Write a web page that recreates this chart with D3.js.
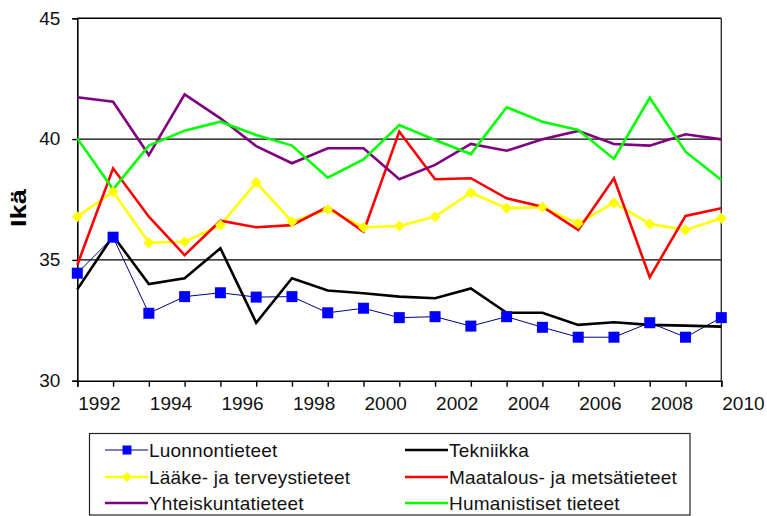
<!DOCTYPE html>
<html>
<head>
<meta charset="utf-8">
<script src="https://cdn.jsdelivr.net/npm/d3@7"></script>
<style>
  html, body { margin: 0; padding: 0; background: #fff; }
  svg { display: block; font-family: "Liberation Sans", Arial, sans-serif; }
</style>
</head>
<body>
<svg id="chart" width="767" height="516"></svg>
<script>
// Years on the category axis
const years = [1992, 1993, 1994, 1995, 1996, 1997, 1998, 1999, 2000, 2001,
               2002, 2003, 2004, 2005, 2006, 2007, 2008, 2009, 2010];

// Mean age by field
const luonnontieteet = [34.45, 35.94, 32.79, 33.48, 33.64, 33.46, 33.48, 32.81, 33.0, 32.61,
                        32.65, 32.26, 32.65, 32.21, 31.8, 31.8, 32.4, 31.8, 32.61];
const tekniikka      = [33.78, 36.0, 34.0, 34.24, 35.48, 32.4, 34.24, 33.73, 33.62, 33.48,
                        33.41, 33.82, 32.81, 32.81, 32.31, 32.42, 32.31, 32.28, 32.24];
const laake          = [36.79, 37.82, 35.71, 35.75, 36.44, 38.2, 36.58, 37.09, 36.35, 36.4,
                        36.79, 37.78, 37.14, 37.18, 36.51, 37.37, 36.49, 36.24, 36.72];
const maatalous      = [34.79, 38.79, 36.79, 35.2, 36.62, 36.35, 36.44, 37.2, 36.17, 40.31,
                        38.34, 38.38, 37.55, 37.2, 36.24, 38.38, 34.28, 36.82, 37.14];
const yhteiskunta    = [41.73, 41.55, 39.34, 41.85, 40.86, 39.71, 39.0, 39.62, 39.62, 38.34,
                        38.93, 39.8, 39.52, 39.99, 40.34, 39.8, 39.73, 40.2, 39.99];
const humanistiset   = [40.03, 37.92, 39.73, 40.35, 40.72, 40.17, 39.73, 38.4, 39.16, 40.58,
                        39.96, 39.38, 41.32, 40.72, 40.38, 39.18, 41.71, 39.48, 38.31];

const seriesNames = ["Luonnontieteet", "Tekniikka", "Lääke- ja terveystieteet",
                     "Maatalous- ja metsätieteet", "Yhteiskuntatieteet", "Humanistiset tieteet"];
const yTicks = [30, 35, 40, 45];
const yTitle = "Ikä";

const series = [
  { name: seriesNames[0], values: luonnontieteet, line: "#000080", width: 1, marker: "square", fill: "#0000ff" },
  { name: seriesNames[1], values: tekniikka,      line: "#000000", width: 2.6 },
  { name: seriesNames[2], values: laake,          line: "#ffff00", width: 2.6, marker: "diamond", fill: "#ffff00" },
  { name: seriesNames[3], values: maatalous,      line: "#ff0000", width: 2.6 },
  { name: seriesNames[4], values: yhteiskunta,    line: "#800080", width: 2.6 },
  { name: seriesNames[5], values: humanistiset,   line: "#00ff00", width: 2.6 }
];

const svg = d3.select("#chart");
const plotLeft = 77.3, plotRight = 721.3, plotTop = 18.3, plotBottom = 380.7;

const x = d3.scaleLinear().domain([years[0], years[years.length - 1]]).range([plotLeft, plotRight]);
const y = d3.scaleLinear().domain([30, 45]).range([plotBottom, plotTop]);

// Horizontal gridlines and plot frame
svg.append("g").selectAll("line")
  .data(yTicks.filter(t => t > 30))
  .join("line")
  .attr("x1", plotLeft).attr("x2", plotRight)
  .attr("y1", d => y(d)).attr("y2", d => y(d))
  .attr("stroke", "#000").attr("stroke-width", 1.4);
svg.append("line")
  .attr("x1", plotRight).attr("x2", plotRight).attr("y1", plotTop).attr("y2", plotBottom)
  .attr("stroke", "#333").attr("stroke-width", 1.4);

// Y axis
const yAxis = svg.append("g")
  .attr("transform", `translate(${plotLeft},0)`)
  .call(d3.axisLeft(y).tickValues(yTicks).tickSize(5).tickPadding(12).tickFormat(d3.format("d")));
yAxis.select(".domain").attr("stroke", "#000").attr("stroke-width", 1.6);
yAxis.selectAll(".tick line").attr("stroke", "#000").attr("stroke-width", 1.4);
yAxis.selectAll(".tick text")
  .attr("font-size", 19).attr("fill", "#111")
  .attr("font-family", "Liberation Sans, Arial, sans-serif")
  .attr("dy", "0.3em");

// X axis: labels on every other year, set just right of the tick
const xAxis = svg.append("g")
  .attr("transform", `translate(0,${plotBottom})`)
  .call(d3.axisBottom(x).tickValues(years).tickSize(6).tickPadding(10)
    .tickFormat(d => d % 2 === 0 ? String(d) : ""));
xAxis.select(".domain").attr("stroke", "#000").attr("stroke-width", 1.6);
xAxis.selectAll(".tick line").attr("stroke", "#000").attr("stroke-width", 1.4);
xAxis.selectAll(".tick text")
  .attr("font-size", 19).attr("fill", "#111")
  .attr("font-family", "Liberation Sans, Arial, sans-serif")
  .attr("text-anchor", "start").attr("x", 0.5);

// Y axis title
svg.append("text")
  .attr("transform", "translate(26,208) rotate(-90)")
  .attr("text-anchor", "middle")
  .attr("font-size", 22).attr("font-weight", "bold").attr("fill", "#000")
  .attr("textLength", 38).attr("lengthAdjust", "spacingAndGlyphs")
  .text(yTitle);

// Series lines
const lineGen = d3.line().x((d, i) => x(years[i])).y(d => y(d));
svg.append("g").selectAll("path")
  .data(series)
  .join("path")
  .attr("d", s => lineGen(s.values))
  .attr("fill", "none")
  .attr("stroke", s => s.line)
  .attr("stroke-width", s => s.width)
  .attr("stroke-linejoin", "miter");

// Markers
const diamond = (cx, cy, r) => `M${cx},${cy - r}L${cx + r},${cy}L${cx},${cy + r}L${cx - r},${cy}Z`;
series.filter(s => s.marker).forEach(s => {
  const g = svg.append("g");
  if (s.marker === "square") {
    g.selectAll("rect").data(s.values).join("rect")
      .attr("x", (d, i) => x(years[i]) - 5.5)
      .attr("y", d => y(d) - 5.5)
      .attr("width", 11).attr("height", 11)
      .attr("fill", s.fill);
  } else {
    g.selectAll("path").data(s.values).join("path")
      .attr("d", (d, i) => diamond(x(years[i]), y(d), 5.5))
      .attr("fill", s.fill);
  }
});

// Legend
const legend = svg.append("g");
legend.append("rect")
  .attr("x", 89.5).attr("y", 433.5).attr("width", 600.5).attr("height", 81.5)
  .attr("fill", "#fff").attr("stroke", "#222").attr("stroke-width", 1.2);
const rowY = [450, 477, 503];
const colX = [105, 405];
series.forEach((s, i) => {
  const cx = colX[i % 2], cy = rowY[Math.floor(i / 2)];
  const g = legend.append("g");
  g.append("line")
    .attr("x1", cx).attr("x2", cx + 43).attr("y1", cy).attr("y2", cy)
    .attr("stroke", s.line).attr("stroke-width", s.width);
  if (s.marker === "square") {
    g.append("rect").attr("x", cx + 22 - 4.5).attr("y", cy - 4.5)
      .attr("width", 9).attr("height", 9).attr("fill", s.fill);
  } else if (s.marker === "diamond") {
    g.append("path").attr("d", diamond(cx + 22, cy, 5)).attr("fill", s.fill);
  }
  g.append("text")
    .attr("x", cx + 44).attr("y", cy + 7)
    .attr("font-size", 19).attr("fill", "#111")
    .attr("letter-spacing", 0.2)
    .text(s.name);
});
</script>
</body>
</html>
